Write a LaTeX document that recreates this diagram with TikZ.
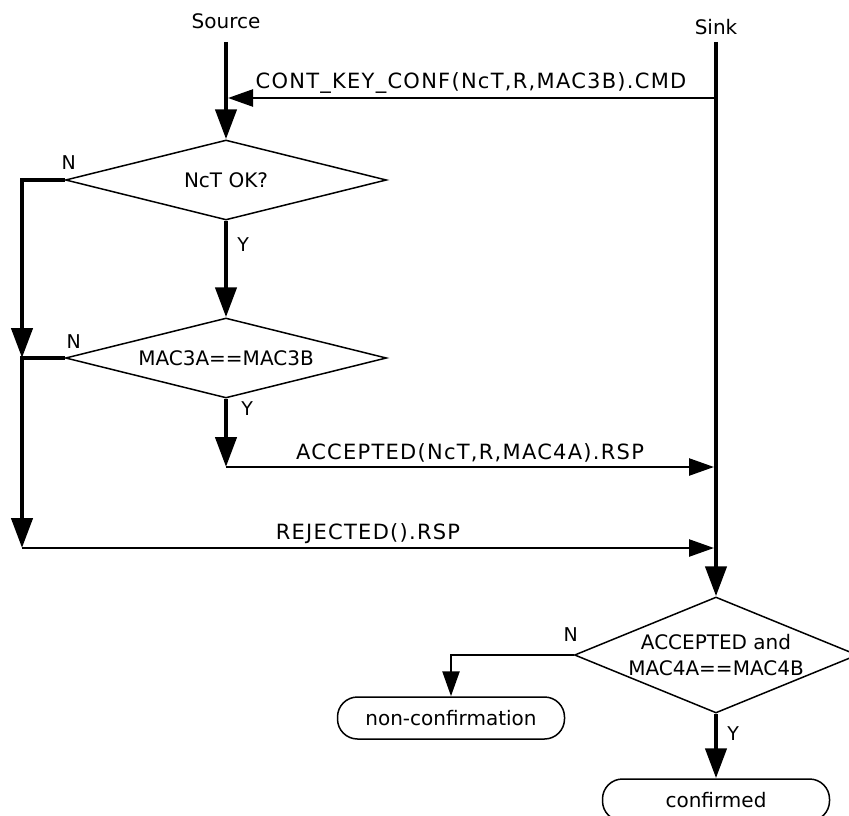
\documentclass[tikz,border=0pt]{standalone}
\usepackage{fontspec}
\setmainfont{DejaVu Sans}
\newfontfamily\msgfont[LetterSpace=6]{DejaVu Sans}
\usetikzlibrary{shapes.geometric,arrows.meta}
\begin{document}
\begin{tikzpicture}[x=1pt, y=-1pt, font=\fontsize{20}{24}\selectfont,
    flow/.style={line width=4.5pt, -{Triangle[length=30pt,width=21pt]}},
    msg/.style={line width=2.5pt, -{Triangle[length=25pt,width=17pt]}},
    decision/.style={draw, diamond, line width=1.5pt, inner sep=0pt, align=center},
    terminal/.style={draw, rectangle, rounded corners=20pt, line width=1.5pt,
      minimum width=227pt, minimum height=42pt, inner sep=0pt},
    msglabel/.style={above, font=\fontsize{21}{24}\msgfont},
    yn/.style={font=\fontsize{19}{20}\selectfont, inner sep=1pt}]
  \useasboundingbox (0,0) rectangle (849,816);

  % Nodes
  \node (source) at (226,21) {Source};
  \node (sink) at (716,27) {Sink};
  \coordinate (sourcetop) at (226,42);
  \coordinate (sinktop) at (716,42);
  \node[decision, shape aspect=4, minimum width=321pt, minimum height=80pt] (nct) at (226,180) {NcT OK?};
  \node[decision, shape aspect=4, minimum width=321pt, minimum height=80pt] (mac3) at (226,358) {MAC3A==MAC3B};
  \node[decision, shape aspect=2.44, minimum width=283pt, minimum height=116pt,
    font=\fontsize{20}{26}\selectfont] (mac4) at (716,655) {ACCEPTED and\\MAC4A==MAC4B};
  \node[terminal] (nonconf) at (451,718) {non-confirmation};
  \node[terminal] (conf) at (716,800) {confirmed};

  \coordinate (contstart) at (714,98);
  \coordinate (contend) at (228,98);
  \coordinate (nbend) at (22,358);
  \coordinate (accstart) at (226,467);
  \coordinate (accend) at (714,467);
  \coordinate (rejstart) at (22,548);
  \coordinate (rejend) at (714,548);

  \node[yn] (nctno) at ([shift={(4,-17)}]nct.west) {N};
  \node[yn] (mac3no) at ([shift={(9,-16)}]mac3.west) {N};
  \node[yn] (mac4no) at ([shift={(-3,-20)}]mac4.west) {N};

  % Arrows
  \draw[flow] (sourcetop) -- (nct.north);
  \draw[flow] (sinktop) -- (mac4.north);
  \draw[msg] (contstart) -- node[msglabel] {CONT\_KEY\_CONF(NcT,R,MAC3B).CMD} (contend);

  \draw[flow] (nct.south) -- node[yn, pos=0.25, right=8pt] {Y} (mac3.north);
  \draw[flow] (nct.west) -| (nbend);
  \draw[flow] (mac3.west) -| (rejstart);

  \draw[flow] (mac3.south) -- node[yn, pos=0.15, right=12pt] {Y} (accstart);
  \draw[msg] (accstart) -- node[msglabel] {ACCEPTED(NcT,R,MAC4A).RSP} (accend);
  \draw[msg] (rejstart) -- node[msglabel] {REJECTED().RSP} (rejend);

  \draw[msg] (mac4.west) -| (nonconf.north);
  \draw[flow] (mac4.south) -- node[yn, pos=0.3, right=8pt] {Y} (conf.north);
\end{tikzpicture}
\end{document}
